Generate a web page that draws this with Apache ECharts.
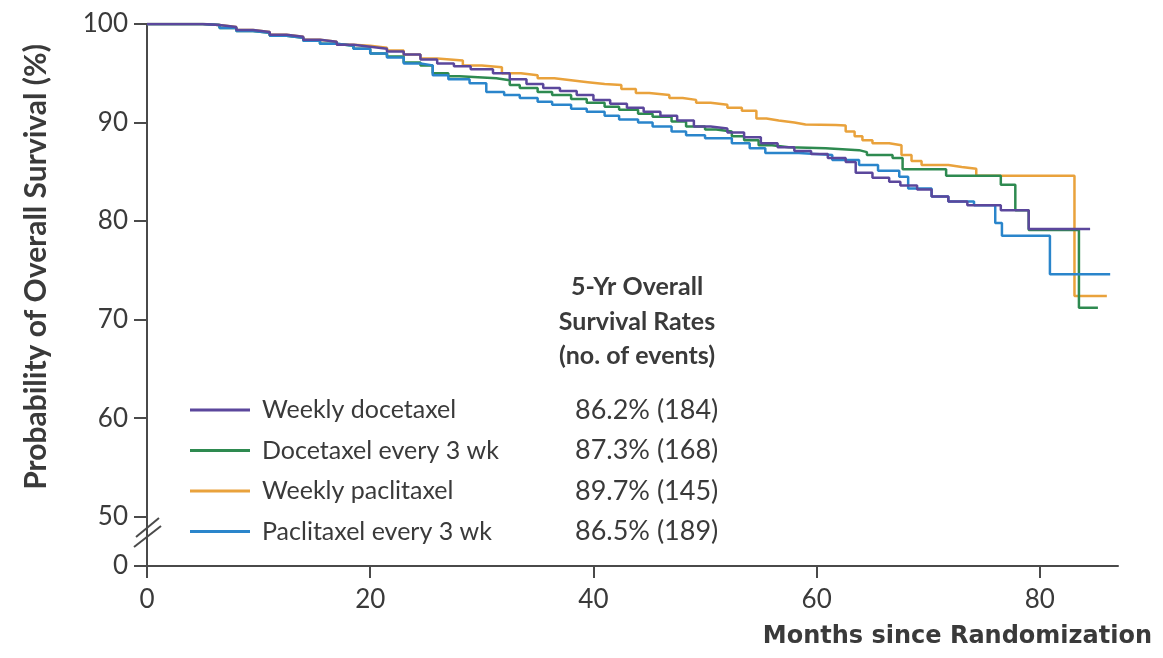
<!DOCTYPE html>
<html>
<head>
<meta charset="utf-8">
<script src="https://cdn.jsdelivr.net/npm/echarts@6/dist/echarts.min.js"></script>
<style>
html,body{margin:0;padding:0;background:#fff;}
#chart{width:1163px;height:658px;}
</style>
</head>
<body>
<div id="chart"></div>
<script>
// ---- Data ----
const seriesNames = ['Weekly docetaxel', 'Docetaxel every 3 wk', 'Weekly paclitaxel', 'Paclitaxel every 3 wk'];
const rateLabels = ['86.2% (184)', '87.3% (168)', '89.7% (145)', '86.5% (189)'];
const headerLines = ['5-Yr Overall', 'Survival Rates', '(no. of events)'];
const xTickValues = [0, 20, 40, 60, 80];
const yTickValues = [45, 50, 60, 70, 80, 90, 100]; // 45 is shown as "0" (broken axis)
const xAxisTitle = 'Months since Randomization';
const yAxisTitle = 'Probability of Overall Survival (%)';

const weeklyDocetaxelT = [0, 3, 5, 6.5, 8, 9.5, 11, 12.5, 14, 15.5, 17, 18.5, 20, 21.5, 23, 24.5, 26, 27.5, 29, 31, 32.5, 34, 35.5, 37, 38.5, 40, 41.5, 43, 44.5, 46, 47.5, 49, 50.5, 52, 53.5, 55, 56.5, 58, 59.5, 61, 62.6, 63.5, 65, 66.5, 67.5, 69, 70.3, 71.8, 73.5, 76.5, 79, 84.5];
const weeklyDocetaxelV = [100, 100, 99.9, 99.7, 99.4, 99.2, 98.9, 98.7, 98.4, 98.2, 97.9, 97.7, 97.5, 97.2, 96.9, 96.4, 96.0, 95.7, 95.4, 95.0, 94.4, 93.9, 93.5, 93.2, 92.8, 92.3, 91.9, 91.5, 91.1, 90.7, 90.2, 89.6, 89.4, 89.0, 88.5, 87.9, 87.5, 87.1, 86.8, 86.4, 86.0, 84.9, 84.4, 84.0, 83.6, 83.2, 82.5, 82.0, 81.6, 81.1, 79.2, 79.2];

const docetaxel3wkT = [0, 3, 5, 6.5, 8, 9.5, 11, 12.5, 14, 15.5, 17, 18.5, 20, 21.5, 23, 24.5, 25.6, 27, 28, 31.3, 32.5, 33.4, 35, 36.3, 38, 39.4, 41, 42.3, 44, 45.3, 47, 48.3, 50, 51, 52.4, 53.5, 54.8, 56, 57.5, 60.8, 63.8, 64.5, 66.8, 67.7, 71.6, 76.5, 77.8, 79, 83.5, 85.2];
const docetaxel3wkV = [100, 100, 99.9, 99.6, 99.3, 99.1, 98.8, 98.6, 98.3, 98.0, 97.8, 97.5, 97.0, 96.7, 96.1, 95.8, 95.0, 94.7, 94.5, 94.3, 93.8, 93.5, 93.1, 92.8, 92.4, 92.0, 91.6, 91.3, 90.9, 90.6, 90.1, 89.6, 89.3, 89.1, 88.6, 88.2, 87.7, 87.5, 87.4, 87.2, 87.0, 86.7, 86.4, 85.25, 84.6, 83.7, 81.1, 79.1, 71.2, 71.2];

const weeklyPaclitaxelT = [0, 3, 5, 6.5, 8, 9.5, 11, 12.5, 14, 15.5, 17, 18.5, 20, 21.5, 23, 24.5, 26, 28.3, 30, 31.8, 33.5, 35, 36.5, 38, 39.5, 41, 42.5, 43.8, 45, 46.8, 48, 49.2, 50.5, 52, 53.3, 54.6, 55.5, 56.6, 58, 59, 61.7, 62.6, 63.4, 64.1, 65, 66.5, 67.6, 68.5, 69.4, 71.8, 73, 74.3, 83.1, 86.0];
const weeklyPaclitaxelV = [100, 100, 99.9, 99.7, 99.4, 99.2, 98.9, 98.7, 98.4, 98.2, 97.9, 97.8, 97.6, 97.3, 96.9, 96.5, 96.3, 95.8, 95.6, 95.0, 94.8, 94.5, 94.3, 94.1, 93.9, 93.8, 93.4, 93.0, 92.8, 92.5, 92.3, 92.0, 91.8, 91.5, 91.2, 90.4, 90.2, 90.0, 89.8, 89.75, 89.7, 89.1, 88.6, 88.2, 87.9, 87.7, 86.7, 86.1, 85.7, 85.5, 85.3, 84.6, 72.4, 72.4];

const paclitaxel3wkT = [0, 3, 5, 6.5, 8, 9.5, 11, 12.5, 14, 15.5, 17, 18.5, 20, 21.5, 23, 24.5, 25.6, 27, 28.9, 30.4, 32, 33.4, 35, 36.3, 38, 39.4, 41, 42.3, 44, 45.3, 47, 48.3, 50, 52.4, 54, 55.4, 58.4, 61.4, 63.8, 65.5, 67.4, 68.2, 70.3, 71.8, 74.1, 76.0, 76.6, 80.9, 86.3];
const paclitaxel3wkV = [100, 100, 99.9, 99.6, 99.3, 99.1, 98.8, 98.6, 98.3, 98.0, 97.8, 97.5, 97.0, 96.6, 96.0, 95.8, 94.8, 94.4, 94.0, 93.1, 92.8, 92.5, 92.1, 91.8, 91.4, 91.1, 90.7, 90.3, 90.0, 89.6, 89.1, 88.7, 88.4, 87.9, 87.4, 86.9, 86.7, 86.2, 85.7, 85.1, 84.5, 83.3, 82.5, 82.0, 81.6, 79.8, 78.5, 74.6, 74.6];

// ---- Styles ----
const colors = {
  'Weekly docetaxel': '#5b479c',
  'Docetaxel every 3 wk': '#2e8a50',
  'Weekly paclitaxel': '#e9a23c',
  'Paclitaxel every 3 wk': '#2a85cb'
};
const axisColor = '#4a4a4a';
const textColor = '#3a3a3a';
const font = 'Lato, "Open Sans", sans-serif';

function zip(t, v) { return t.map((x, i) => [x, v[i]]); }

const seriesData = {
  'Weekly docetaxel': zip(weeklyDocetaxelT, weeklyDocetaxelV),
  'Docetaxel every 3 wk': zip(docetaxel3wkT, docetaxel3wkV),
  'Weekly paclitaxel': zip(weeklyPaclitaxelT, weeklyPaclitaxelV),
  'Paclitaxel every 3 wk': zip(paclitaxel3wkT, paclitaxel3wkV)
};
// drawing order (last on top)
const drawOrder = ['Weekly paclitaxel', 'Docetaxel every 3 wk', 'Paclitaxel every 3 wk', 'Weekly docetaxel'];

const chart = echarts.init(document.getElementById('chart'), null, { renderer: 'canvas' });

const option = {
  backgroundColor: '#ffffff',
  animation: false,
  grid: { left: 147, right: 45, top: 24, bottom: 92, containLabel: false },
  xAxis: {
    type: 'value', min: 0, max: 87,
    axisLine: { show: true, lineStyle: { color: axisColor, width: 2 } },
    axisTick: { show: true, length: 12, lineStyle: { color: axisColor, width: 2 }, customValues: xTickValues },
    axisLabel: { customValues: xTickValues, margin: 21, fontSize: 26, color: textColor, fontFamily: font },
    splitLine: { show: false }
  },
  yAxis: {
    type: 'value', min: 45, max: 100,
    axisLine: { show: true, onZero: false, lineStyle: { color: axisColor, width: 2 } },
    axisTick: { show: true, length: 13, lineStyle: { color: axisColor, width: 2 }, customValues: yTickValues },
    axisLabel: { customValues: yTickValues, margin: 19, fontSize: 26, color: textColor, fontFamily: font,
      formatter: v => (v === 45 ? '0' : String(v)) },
    splitLine: { show: false }
  },
  legend: {
    orient: 'vertical', left: 190, top: 396, padding: 0,
    itemWidth: 60, itemHeight: 3, itemGap: 12.5,
    icon: 'rect',
    data: seriesNames,
    selectedMode: false,
    formatter: name => '{s|}{n|' + name + '}{v|' + rateLabels[seriesNames.indexOf(name)] + '}',
    textStyle: {
      color: textColor, fontFamily: font, fontSize: 25, lineHeight: 28,
      rich: {
        s: { width: 7 },
        n: { width: 313, fontSize: 25, fontFamily: font, color: textColor },
        v: { fontSize: 27, fontFamily: font, color: textColor }
      }
    }
  },
  series: drawOrder.map(name => ({
    name: name, type: 'line', step: 'end', showSymbol: false, symbol: 'none',
    data: seriesData[name],
    lineStyle: { color: colors[name], width: 2.5 },
    itemStyle: { color: colors[name] },
    emphasis: { disabled: true }
  })),
  graphic: [
    { id: 'ytitle', type: 'text', x: 36, y: 267, rotation: Math.PI / 2,
      style: { text: yAxisTitle, fill: textColor, font: 'bold 30px ' + font, textAlign: 'center', textVerticalAlign: 'middle' } },
    { id: 'xtitle', type: 'text', x: 1152, y: 637,
      style: { text: xAxisTitle, fill: textColor, font: 'bold 24px "DejaVu Sans", sans-serif', textAlign: 'right', textVerticalAlign: 'middle' } },
    { id: 'header', type: 'text', x: 637, y: 270,
      style: { text: headerLines.join('\n'), fill: textColor, font: 'bold 25px ' + font, textAlign: 'center', textVerticalAlign: 'top', lineHeight: 34.5 } }
  ]
};

chart.setOption(option);

// Axis-break "//" marks placed through the axis scale, between 0 and 50
const c = chart.convertToPixel({ gridIndex: 0 }, [0, 48.35]);
chart.setOption({
  graphic: [
    { id: 'brk1', type: 'line', shape: { x1: c[0] - 11, y1: c[1] + 4, x2: c[0] + 12, y2: c[1] - 15 }, style: { stroke: axisColor, lineWidth: 2 }, z: 10 },
    { id: 'brk2', type: 'line', shape: { x1: c[0] - 13, y1: c[1] + 14, x2: c[0] + 14, y2: c[1] - 7 }, style: { stroke: axisColor, lineWidth: 2 }, z: 10 }
  ]
});
</script>
</body>
</html>
